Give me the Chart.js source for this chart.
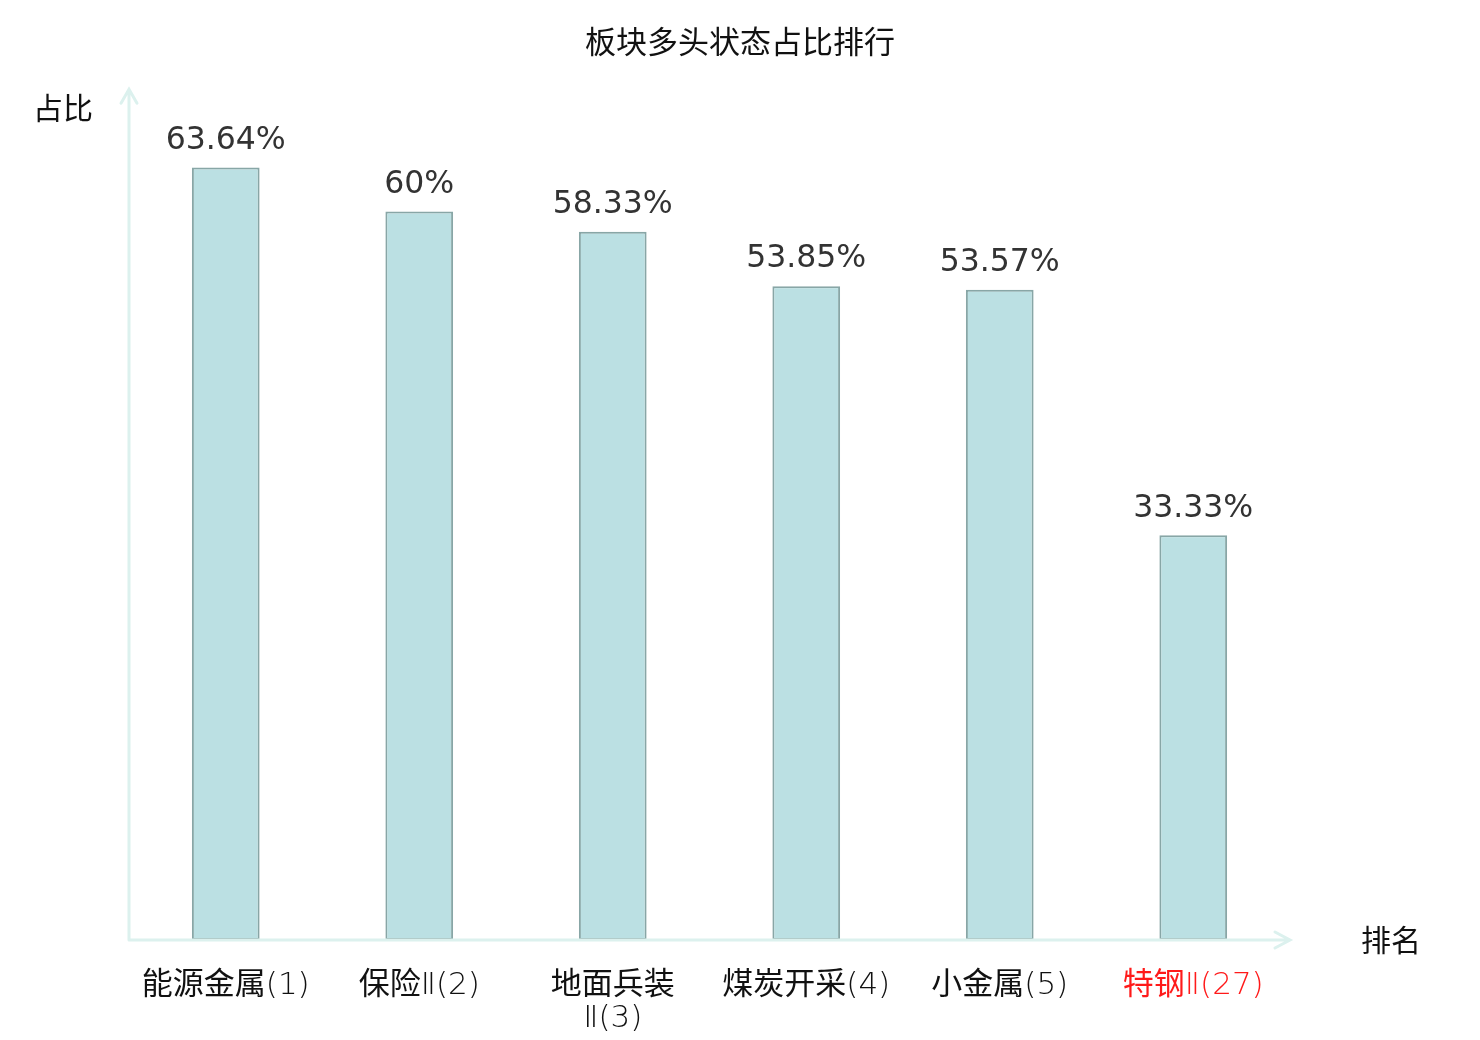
<!DOCTYPE html>
<html>
<head>
<meta charset="utf-8">
<script src="https://cdn.jsdelivr.net/npm/chart.js@4/dist/chart.umd.min.js"></script>
<style>
  html, body { margin: 0; padding: 0; background: #fff; }
  #wrap { width: 1480px; height: 1040px; }
</style>
</head>
<body>
<div id="wrap"><canvas id="c"></canvas></div>
<script>
var categories = ['能源金属(1)', '保险Ⅱ(2)', ['地面兵装', 'Ⅱ(3)'], '煤炭开采(4)', '小金属(5)', '特钢Ⅱ(27)'];
var ratios = [63.64, 60, 58.33, 53.85, 53.57, 33.33];
var valueLabels = ['63.64%', '60%', '58.33%', '53.85%', '53.57%', '33.33%'];
var highlightIndex = 5;

var axisColor = '#dcf1ee';
var cjk = '"DejaVu Sans", "Noto Sans CJK SC", sans-serif';
var tickFamily = '"DejaVu Sans Light", "Noto Sans CJK SC", sans-serif';

// arrows, axis names and value labels
var decor = {
  id: 'decor',
  afterDatasetsDraw: function(chart) {
    var ctx = chart.ctx, a = chart.chartArea;
    ctx.save();
    ctx.strokeStyle = axisColor;
    ctx.lineWidth = 3;
    ctx.lineCap = 'round';
    ctx.beginPath();
    ctx.moveTo(a.left, a.bottom);
    ctx.lineTo(a.left, a.top - 1);
    ctx.moveTo(a.left - 8, a.top + 13);
    ctx.lineTo(a.left, a.top - 1);
    ctx.lineTo(a.left + 8, a.top + 13);
    ctx.moveTo(a.left, a.bottom);
    ctx.lineTo(a.right, a.bottom);
    ctx.moveTo(a.right - 15, a.bottom - 8);
    ctx.lineTo(a.right, a.bottom);
    ctx.lineTo(a.right - 15, a.bottom + 8);
    ctx.stroke();

    ctx.fillStyle = '#111';
    ctx.font = '30px ' + cjk;
    ctx.textAlign = 'center';
    ctx.textBaseline = 'middle';
    ctx.fillText('占比', a.left - 66, a.top + 21);
    ctx.fillText('排名', a.right + 101, a.bottom + 3);

    ctx.fillStyle = '#333';
    ctx.font = '31.5px ' + cjk;
    chart.getDatasetMeta(0).data.forEach(function(bar, i) {
      ctx.fillText(valueLabels[i], bar.x, bar.y - 27);
    });
    ctx.restore();
  }
};

new Chart(document.getElementById('c'), {
  type: 'bar',
  data: {
    labels: categories,
    datasets: [{
      data: ratios,
      backgroundColor: '#bbe0e3',
      borderColor: '#88a6a6',
      borderWidth: 2,
      borderSkipped: false,
      categoryPercentage: 0.35,
      barPercentage: 1
    }]
  },
  options: {
    responsive: true,
    maintainAspectRatio: false,
    animation: false,
    layout: { padding: 0 },
    plugins: {
      legend: { display: false },
      tooltip: { enabled: false },
      title: {
        display: true,
        text: '板块多头状态占比排行',
        color: '#111',
        font: { family: cjk, size: 31, weight: 'normal' },
        padding: { top: 26, bottom: 27 }
      }
    },
    scales: {
      x: {
        grid: { display: false },
        border: { display: false },
        ticks: {
          color: function(c) { return c.index === highlightIndex ? '#ff1a1a' : '#111'; },
          font: { family: tickFamily, size: 31, lineHeight: 1.05 },
          padding: 22,
          maxRotation: 0,
          autoSkip: false
        },
        afterFit: function(s) { s.height = 100; }
      },
      y: {
        position: 'left',
        min: 0,
        max: 70,
        grid: { display: false },
        border: { display: false },
        ticks: { display: false },
        afterFit: function(s) { s.width = 129; }
      },
      yRight: {
        position: 'right',
        min: 0,
        max: 70,
        grid: { display: false },
        border: { display: false },
        ticks: { display: false },
        afterFit: function(s) { s.width = 190; }
      }
    }
  },
  plugins: [decor]
});
</script>
</body>
</html>
